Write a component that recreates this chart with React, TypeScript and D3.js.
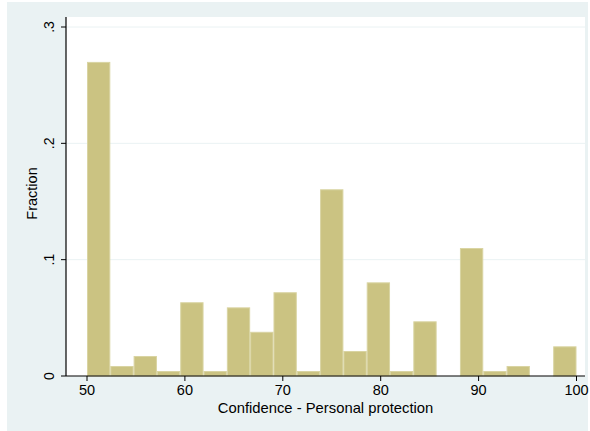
import React from "react";
import * as d3 from "d3";

const binLower = 50;
const binUpper = 100;
const fractions = [
  0.27, 0.0086, 0.0172, 0.0043, 0.0634, 0.0043, 0.059, 0.038, 0.072, 0.0043,
  0.1605, 0.0215, 0.0805, 0.0043, 0.047, 0, 0.11, 0.0043, 0.0086, 0, 0.0255,
];
const xTicks = [50, 60, 70, 80, 90, 100];
const yTicks = [0, 0.1, 0.2, 0.3];
const yTickLabels = ["0", ".1", ".2", ".3"];
const xTitle = "Confidence - Personal protection";
const yTitle = "Fraction";

const W = 590;
const H = 431;
const plot = { left: 66, right: 585, top: 17, bottom: 376 };

export default function App() {
  const x = d3.scaleLinear().domain([binLower, binUpper]).range([87, 576.5]);
  const y = d3.scaleLinear().domain([0, 0.3]).range([plot.bottom, 27]);
  const bw = (binUpper - binLower) / fractions.length;
  const font = "'Liberation Sans', Arial, sans-serif";
  return (
    <svg
      width={W}
      height={H}
      style={{ position: "absolute", left: 0, top: 0 }}
      fontFamily={font}
    >
      <rect x={0} y={0} width={W} height={H} fill="#ffffff" />
      <rect x={7} y={2} width={581} height={H - 2} fill="#eaf2f3" />
      <rect
        x={plot.left}
        y={plot.top}
        width={plot.right - plot.left}
        height={plot.bottom - plot.top}
        fill="#ffffff"
      />
      {yTicks.slice(1).map((t) => (
        <line
          key={"g" + t}
          x1={plot.left}
          x2={plot.right}
          y1={y(t)}
          y2={y(t)}
          stroke="#eaf2f3"
          strokeWidth={1}
        />
      ))}
      {fractions.map((f, i) =>
        f > 0 ? (
          <rect
            key={"b" + i}
            x={x(binLower + i * bw) + 0.5}
            y={y(f) + 0.5}
            width={x(binLower + (i + 1) * bw) - x(binLower + i * bw) - 1}
            height={y(0) - y(f) - 0.5}
            fill="#cbc382"
            stroke="#d9d4a2"
            strokeWidth={1}
          />
        ) : null
      )}
      <line
        x1={plot.left}
        x2={plot.left}
        y1={plot.top}
        y2={plot.bottom}
        stroke="#000"
        strokeWidth={1.2}
      />
      <line
        x1={plot.left}
        x2={plot.right}
        y1={plot.bottom}
        y2={plot.bottom}
        stroke="#000"
        strokeWidth={1.2}
      />
      {yTicks.map((t, i) => (
        <g key={"yt" + t}>
          <line
            x1={plot.left - 5}
            x2={plot.left}
            y1={y(t)}
            y2={y(t)}
            stroke="#000"
            strokeWidth={1}
          />
          <text
            transform={`translate(54,${y(t)}) rotate(-90)`}
            textAnchor="middle"
            fontSize={14}
            fill="#000"
          >
            {yTickLabels[i]}
          </text>
        </g>
      ))}
      {xTicks.map((t) => (
        <g key={"xt" + t}>
          <line
            x1={x(t)}
            x2={x(t)}
            y1={plot.bottom}
            y2={plot.bottom + 5}
            stroke="#000"
            strokeWidth={1}
          />
          <text
            x={x(t)}
            y={395}
            textAnchor="middle"
            fontSize={14.5}
            fill="#000"
          >
            {t}
          </text>
        </g>
      ))}
      <text
        x={(plot.left + plot.right) / 2}
        y={413}
        textAnchor="middle"
        fontSize={14.8}
        fill="#000"
      >
        {xTitle}
      </text>
      <text
        transform={`translate(37,${(plot.top + plot.bottom) / 2 - 3}) rotate(-90)`}
        textAnchor="middle"
        fontSize={14.5}
        fill="#000"
      >
        {yTitle}
      </text>
    </svg>
  );
}
